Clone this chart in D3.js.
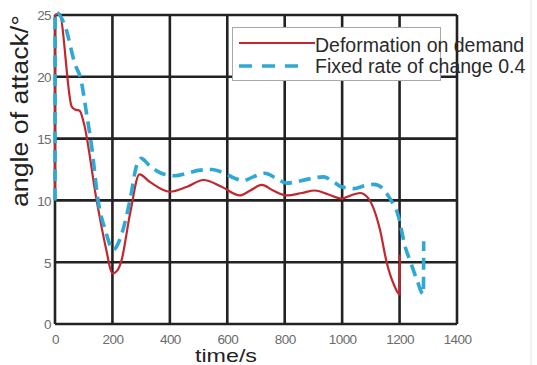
<!DOCTYPE html>
<html>
<head>
<meta charset="utf-8">
<script src="https://cdn.jsdelivr.net/npm/d3@7/dist/d3.min.js"></script>
<style>
  html, body { margin: 0; padding: 0; background: #fff; }
  svg { display: block; font-family: "Liberation Sans", Arial, sans-serif; }
</style>
</head>
<body>
<svg id="chart" width="537" height="365"></svg>
<script>
// Angle of attack over time for two deformation strategies
const xTicks = [0, 200, 400, 600, 800, 1000, 1200, 1400];
const yTicks = [0, 5, 10, 15, 20, 25];

const seriesNames = ["Deformation on demand", "Fixed rate of change 0.4"];

// [time (s), angle of attack (deg)]
const onDemand = [
  [0, 10], [0.5, 25], [15, 25.1], [58, 17.6], [70, 17.35], [86, 17.25], [100, 16.3],
  [145, 10], [175, 6.4], [201, 4.1], [216, 4.3], [230, 5.0], [262, 9.0], [294, 12.1],
  [330, 11.5], [400, 10.7], [460, 11.1], [517, 11.65], [580, 11.1], [644, 10.4],
  [680, 10.8], [720, 11.25], [760, 10.8], [807, 10.4], [860, 10.6], [905, 10.8],
  [950, 10.5], [998, 10.15], [1030, 10.4], [1062, 10.6], [1090, 10.2], [1132, 7.6],
  [1155, 5.0], [1180, 3.2], [1200, 2.4], [1201, 5.6]
];

const fixedRate = [
  [0, 10], [0.5, 25.2], [5, 25.2], [35, 24.1], [70, 21.0], [90, 19.8], [110, 17.0],
  [128, 14.3], [150, 10.0], [175, 7.6], [203, 6.0], [225, 6.8], [261, 10.0],
  [285, 12.9], [300, 13.4], [330, 12.8], [370, 12.2], [418, 12.0], [460, 12.2],
  [505, 12.45], [545, 12.5], [590, 12.2], [625, 11.8], [655, 11.6], [690, 11.9],
  [731, 12.2], [770, 11.8], [807, 11.4], [840, 11.5], [877, 11.7], [935, 11.9],
  [970, 11.5], [998, 11.1], [1040, 10.95], [1080, 11.2], [1110, 11.3], [1140, 11.0],
  [1165, 10.2], [1195, 8.8], [1219, 6.3], [1240, 4.9], [1260, 3.6], [1283, 2.4],
  [1284, 6.7]
];

const colors = ["#c1272d", "#2fa8d5"];

const svg = d3.select("#chart");
const plot = { left: 55, right: 457, top: 15, bottom: 324 };

const x = d3.scaleLinear().domain([0, 1400]).range([plot.left, plot.right]);
const y = d3.scaleLinear().domain([0, 25]).range([plot.bottom, plot.top]);

// faint page edge on the right
svg.append("line")
  .attr("x1", 531).attr("x2", 531).attr("y1", 0).attr("y2", 365)
  .attr("stroke", "#ececec").attr("stroke-width", 1.5);

// grid
const gridColor = "#222";
const gridW = 2.6;
svg.append("g").selectAll("line").data(xTicks).join("line")
  .attr("x1", d => x(d)).attr("x2", d => x(d))
  .attr("y1", plot.top).attr("y2", plot.bottom)
  .attr("stroke", gridColor).attr("stroke-width", gridW);
svg.append("g").selectAll("line").data(yTicks).join("line")
  .attr("x1", plot.left).attr("x2", plot.right)
  .attr("y1", d => y(d)).attr("y2", d => y(d))
  .attr("stroke", gridColor).attr("stroke-width", gridW);

// tick labels
const fmt = d3.format("d");
const xAxis = d3.axisBottom(x).tickValues(xTicks).tickFormat(fmt).tickSize(0).tickPadding(0);
const gx = svg.append("g").attr("transform", `translate(0,${plot.bottom})`).call(xAxis);
gx.select(".domain").remove();
gx.selectAll("text")
  .attr("y", 19.5).attr("dy", null)
  .attr("fill", "#6b6b6b").attr("font-size", 13.5).attr("letter-spacing", -0.6)
  .attr("font-family", "Liberation Sans, Arial, sans-serif");

const yAxis = d3.axisLeft(y).tickValues(yTicks).tickFormat(fmt).tickSize(0).tickPadding(0);
const gy = svg.append("g").attr("transform", `translate(${plot.left - 4},0)`).call(yAxis);
gy.select(".domain").remove();
gy.selectAll("text")
  .attr("x", 0).attr("dy", "0.36em")
  .attr("fill", "#6b6b6b").attr("font-size", 13.5).attr("letter-spacing", -0.6)
  .attr("font-family", "Liberation Sans, Arial, sans-serif");

// axis titles
svg.append("text")
  .attr("x", 226).attr("y", 362)
  .attr("text-anchor", "middle")
  .attr("font-size", 19).attr("fill", "#222")
  .attr("textLength", 62).attr("lengthAdjust", "spacingAndGlyphs")
  .text("time/s");

svg.append("text")
  .attr("transform", "translate(28,111) rotate(-90)")
  .attr("text-anchor", "middle")
  .attr("font-size", 23).attr("fill", "#222")
  .attr("textLength", 192).attr("lengthAdjust", "spacingAndGlyphs")
  .text("angle of attack/\u00b0");

// series
const line = d3.line()
  .x(d => x(d[0])).y(d => y(d[1]))
  .curve(d3.curveMonotoneX);

svg.append("path").datum(onDemand)
  .attr("d", line).attr("fill", "none")
  .attr("stroke", colors[0]).attr("stroke-width", 2.2)
  .attr("stroke-linejoin", "round");

svg.append("path").datum(fixedRate)
  .attr("d", line).attr("fill", "none")
  .attr("stroke", colors[1]).attr("stroke-width", 3.6)
  .attr("stroke-dasharray", "12,7");

// legend
const lg = svg.append("g");
lg.append("rect")
  .attr("x", 232.5).attr("y", 27.5).attr("width", 208).attr("height", 53)
  .attr("fill", "#fff").attr("stroke", "#a8a8a8").attr("stroke-width", 1);

lg.append("line")
  .attr("x1", 239).attr("x2", 315).attr("y1", 43).attr("y2", 43)
  .attr("stroke", colors[0]).attr("stroke-width", 2.2);
lg.append("line")
  .attr("x1", 239).attr("x2", 299).attr("y1", 66).attr("y2", 66)
  .attr("stroke", colors[1]).attr("stroke-width", 3.6)
  .attr("stroke-dasharray", "13,10");

lg.selectAll("text").data(seriesNames).join("text")
  .attr("x", 315).attr("y", (d, i) => 52 + i * 20.5)
  .attr("font-size", 19.5).attr("fill", "#2a2a2a")
  .text(d => d);
</script>
</body>
</html>
